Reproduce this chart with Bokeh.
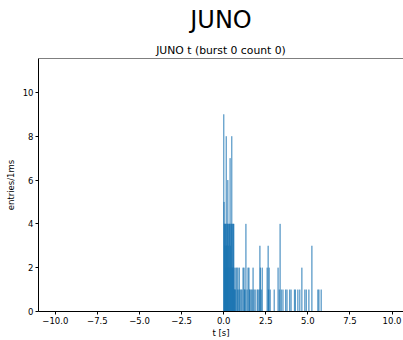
from bokeh.plotting import figure
from bokeh.models import Title, Span, FixedTicker, ColumnDataSource
from bokeh.embed import file_html
from bokeh.resources import INLINE

# 1 ms bins: start of bin (ms) and number of entries
bin_ms = [5, 20, 35, 50,
          65, 80, 100, 112,
          125, 150, 165,
          185, 200, 220, 230,
          245, 260, 280,
          305, 320, 340,
          365, 380, 400,
          425, 440, 460,
          480, 500, 520,
          540, 560, 580,
          600, 620, 640,
          660, 690, 720, 780, 810, 845, 900, 930, 970, 1030,
          1085, 1150, 1205, 1235, 1270, 1320, 1390, 1445, 1500, 1530,
          1565, 1630, 1690, 1745, 1800, 1870, 1990, 2040, 2110, 2150,
          2180, 2230, 2290, 2580, 2640, 2660, 2700, 2760, 3000, 3230,
          3300, 3350, 3420, 3520, 3680, 3760, 3920, 4000, 4200, 4260,
          4405, 4520, 4643, 4820, 4905, 5060, 5238, 5595, 5655, 5790]
counts = [9, 5, 4, 3,
          4, 3, 4, 2,
          4, 8, 3,
          4, 3, 4, 2,
          6, 4, 3,
          4, 2, 4,
          4, 7, 3,
          4, 2, 4,
          8, 4, 2,
          4, 2, 4,
          4, 2, 1,
          1, 1, 2, 2, 1, 2, 1, 2, 1, 1,
          1, 2, 2, 1, 1, 4, 1, 2, 2, 1,
          1, 1, 1, 2, 1, 1, 1, 1, 1, 3,
          2, 1, 2, 2, 3, 1, 2, 1, 1, 2,
          1, 4, 1, 1, 1, 1, 1, 1, 1, 1,
          1, 1, 2, 1, 1, 1, 3, 1, 1, 1]

x_ticks = [-10.0, -7.5, -5.0, -2.5, 0.0, 2.5, 5.0, 7.5, 10.0]
x_tick_labels = ["\u221210.0", "\u22127.5", "\u22125.0", "\u22122.5", "0.0",
                 "2.5", "5.0", "7.5", "10.0"]
y_ticks = [0, 2, 4, 6, 8, 10]

X_MIN, X_MAX = -11.0, 10.68
Y_MIN, Y_MAX = 0.0, 11.55
FONT = "DejaVu Sans"
BLUE = "#1f77b4"
BIN_W = 0.001

src = ColumnDataSource(dict(
    t=[(m + 0.5) / 1000.0 for m in bin_ms],
    n=counts,
))

p = figure(width=403, height=340, output_backend="svg", toolbar_location=None,
           x_range=(X_MIN, X_MAX), y_range=(Y_MIN, Y_MAX),
           min_border_left=38, min_border_right=0, min_border_top=58,
           min_border_bottom=28)
p.background_fill_color = "white"
p.border_fill_color = "white"
p.outline_line_color = None
p.xgrid.visible = False
p.ygrid.visible = False

p.vbar(x="t", top="n", bottom=0, width=BIN_W, source=src,
       fill_color=BLUE, fill_alpha=0.55, line_color=BLUE, line_width=1,
       line_alpha=0.55)

p.title.text = "JUNO"
p.title.align = "center"
p.title.vertical_align = "top"
p.title.offset = -4
p.title.text_font = FONT
p.title.text_font_size = "24px"
p.title.text_font_style = "normal"
p.title.text_color = "black"
p.title.standoff = 10
p.add_layout(Title(text="JUNO t (burst 0 count 0)", align="center", offset=0,
                   text_font=FONT, text_font_size="10.8px",
                   text_font_style="normal", text_color="black", standoff=3),
             "above")

for ax in (p.xaxis[0], p.yaxis[0]):
    ax.axis_line_color = "black"
    ax.axis_line_width = 1
    ax.major_tick_line_color = "black"
    ax.major_tick_out = 3
    ax.major_tick_in = 0
    ax.minor_tick_out = 0
    ax.minor_tick_in = 0
    ax.major_label_text_font = FONT
    ax.major_label_text_font_size = "8.5px"
    ax.major_label_text_color = "black"
    ax.axis_label_text_font = FONT
    ax.axis_label_text_font_size = "8.5px"
    ax.axis_label_text_font_style = "normal"
    ax.axis_label_text_color = "black"

p.xaxis.ticker = FixedTicker(ticks=x_ticks)
p.xaxis.major_label_overrides = dict(zip(x_ticks, x_tick_labels))
p.xaxis.major_label_standoff = 2
p.xaxis.axis_label_standoff = 1
p.yaxis.ticker = FixedTicker(ticks=y_ticks)
p.xaxis.axis_label = "t [s]"
p.yaxis.axis_label = "entries/1ms"
p.yaxis.axis_label_standoff = 4
p.yaxis.major_label_standoff = 2

p.add_layout(Span(location=Y_MAX, dimension="width", line_color="black",
                  line_width=1))

open("out.html", "w").write(file_html(p, INLINE))
